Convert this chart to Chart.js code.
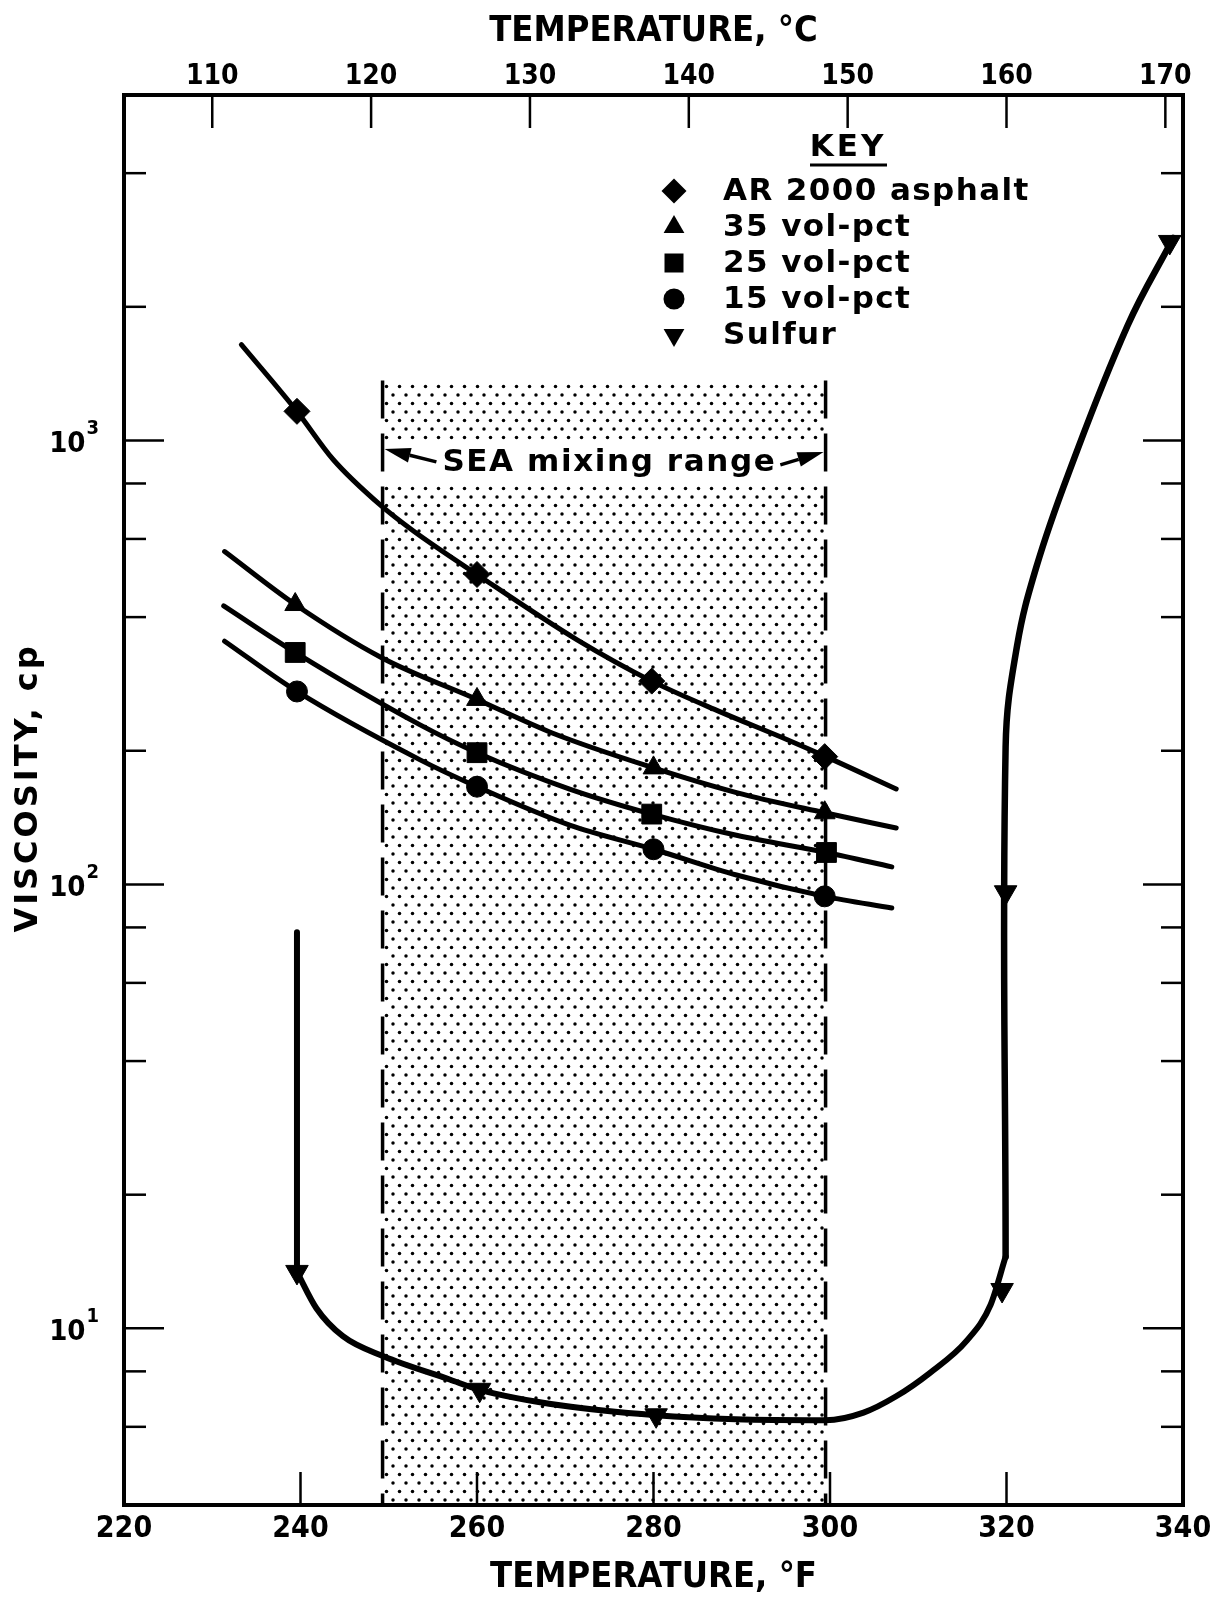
<!DOCTYPE html>
<html>
<head>
<meta charset="utf-8">
<script src="https://cdn.jsdelivr.net/npm/chart.js@4.4.1/dist/chart.umd.min.js"></script>
<style>
  html, body { margin: 0; padding: 0; background: #fff; }
  #wrap { width: 1222px; height: 1602px; }
</style>
</head>
<body>
<div id="wrap"><canvas id="grafico" width="1222" height="1602"></canvas></div>
<script>
// valores: temperatura em °F, viscosidade em cp
const nomes = ['AR 2000 asphalt', '35 vol-pct', '25 vol-pct', '15 vol-pct', 'Sulfur'];

// pontos medidos (marcadores)
const asfaltoTemp = [239.6, 260.0, 279.8, 299.4];
const asfaltoVisc = [1163, 499, 287, 194];
const vol35Temp = [239.4, 260.0, 280.0, 299.4];
const vol35Visc = [427, 261, 183, 145];
const vol25Temp = [239.4, 260.0, 279.8, 299.6];
const vol25Visc = [333, 198, 144, 118];
const vol15Temp = [239.6, 260.0, 280.0, 299.4];
const vol15Visc = [272, 166, 120, 94];
const enxofreTemp = [239.6, 260.3, 280.3, 319.5, 319.9, 338.5];
const enxofreVisc = [13.4, 7.27, 6.37, 12.2, 96, 2800];

// curvas ajustadas (tracadas a mao no original)
const curvaAsfaltoT = [233.3, 239.6, 243.7, 249.2, 252.8, 260.0, 271.3, 279.8, 287.5, 295.1, 299.4, 307.5];
const curvaAsfaltoV = [1644, 1163, 906, 711, 625, 499, 356, 287, 245, 212, 194.5, 164];
const curva35T = [231.4, 239.4, 249.2, 260.0, 268.6, 280.0, 289.4, 299.4, 307.5];
const curva35V = [562, 427, 324, 261, 219, 183, 161, 145, 134];
const curva25T = [231.3, 239.4, 253.5, 260.0, 270.5, 279.8, 289.4, 299.6, 307.0];
const curva25V = [424, 333, 229, 198, 164, 144, 129, 118, 109.5];
const curva15T = [231.4, 239.6, 253.5, 260.0, 270.5, 280.0, 289.4, 299.4, 307.0];
const curva15V = [353, 272, 191, 166, 136, 120, 105, 94, 88.5];

// enxofre: queda na fusao, vale, e subida na polimerizacao
const enxofreDescidaT = [239.6, 239.6];
const enxofreDescidaV = [78, 13.4];
const enxofreValeT = [239.6, 241.8, 244.8, 249.4, 256.9, 260.3, 269.6, 280.3, 289.3, 299.5, 303.8, 307.5, 311.3, 315.5, 318.2, 319.9];
const enxofreValeV = [13.4, 11.1, 9.6, 8.65, 7.67, 7.27, 6.7, 6.37, 6.24, 6.21, 6.46, 7.03, 7.93, 9.38, 11.3, 14.5];
const enxofreSubidaT = [319.9, 319.9, 321.2, 323.4, 327.0, 333.7, 338.9];
const enxofreSubidaV = [14.5, 204, 345, 520, 840, 1811, 2858];

// faixa de mistura SEA
const faixaMistura = [249.3, 299.5];
const topoFaixa = 1365;
const rotuloFaixa = { temp: 275, visc: 890, texto: 'SEA mixing range' };

// eixos
const tempC = [110, 120, 130, 140, 150, 160, 170];
const marcasF = [240, 260, 280, 300, 320];
const marcasVisc = [4000, 2000, 1000, 800, 600, 400, 200, 100, 80, 60, 40, 20, 10, 8, 6];
const decadas = [10, 100, 1000];
const expoentes = ['1', '2', '3'];

const FONTE = '"DejaVu Sans", sans-serif';
const FONTE_COND = '"DejaVu Sans Condensed", "Liberation Sans Narrow", "DejaVu Sans", sans-serif';

const ctx = document.getElementById('grafico').getContext('2d');
const pares = (xs, ys) => xs.map((x, i) => ({ x: x, y: ys[i] }));

// padrao pontilhado da faixa
function pontilhado() {
  const c = document.createElement('canvas');
  c.width = 13; c.height = 17;
  const g = c.getContext('2d');
  g.fillStyle = '#000';
  [[3, 4], [9.5, 12.5]].forEach(([px, py]) => {
    g.beginPath(); g.arc(px, py, 1.75, 0, Math.PI * 2); g.fill();
  });
  return ctx.createPattern(c, 'repeat');
}

function marcadores(xs, ys, estilo, raio, rot) {
  return {
    data: pares(xs, ys), showLine: false, pointStyle: estilo, pointRadius: raio,
    pointRotation: rot || 0, pointBackgroundColor: '#000', pointBorderColor: '#000',
    pointBorderWidth: 1, clip: 20
  };
}
// modo: 'monotone', 'bezier' ou reta
function curva(xs, ys, larg, modo) {
  return {
    data: pares(xs, ys), showLine: true, pointRadius: 0, borderColor: '#000',
    borderWidth: larg, borderCapStyle: 'round', borderJoinStyle: 'round',
    cubicInterpolationMode: modo === 'monotone' ? 'monotone' : 'default',
    tension: modo === 'bezier' ? 0.4 : 0, fill: false
  };
}
function tracejada(t) {
  return {
    data: [{ x: t, y: topoFaixa }, { x: t, y: 4 }], showLine: true, pointRadius: 0,
    borderColor: '#000', borderWidth: 3.5, borderDash: [38, 15], fill: false
  };
}

const datasets = [
  marcadores(asfaltoTemp, asfaltoVisc, 'rectRot', 13),
  marcadores(vol35Temp, vol35Visc, 'triangle', 12),
  marcadores(vol25Temp, vol25Visc, 'rect', 14),
  marcadores(vol15Temp, vol15Visc, 'circle', 10.5),
  marcadores(enxofreTemp, enxofreVisc, 'triangle', 13, 180),
  curva(curvaAsfaltoT, curvaAsfaltoV, 5, 'monotone'),
  curva(curva35T, curva35V, 5, 'monotone'),
  curva(curva25T, curva25V, 5, 'monotone'),
  curva(curva15T, curva15V, 5, 'monotone'),
  curva(enxofreDescidaT, enxofreDescidaV, 6, 'reta'),
  curva(enxofreValeT, enxofreValeV, 6, 'monotone'),
  curva(enxofreSubidaT, enxofreSubidaV, 6.5, 'bezier'),
  tracejada(faixaMistura[0]),
  tracejada(faixaMistura[1]),
  {
    data: [{ x: faixaMistura[0], y: topoFaixa }, { x: faixaMistura[1], y: topoFaixa }],
    showLine: true, pointRadius: 0, borderWidth: 0, borderColor: 'transparent',
    backgroundColor: pontilhado(), fill: 'start'
  }
];
const indiceFaixa = datasets.length - 1;

function linha(c, x1, y1, x2, y2) {
  c.beginPath(); c.moveTo(x1, y1); c.lineTo(x2, y2); c.stroke();
}
function seta(c, x1, y1, x2, y2) {
  const ang = Math.atan2(y2 - y1, x2 - x1);
  const L = 26, W = 7.5;
  const bx = x2 - Math.cos(ang) * L, by = y2 - Math.sin(ang) * L;
  linha(c, x1, y1, bx, by);
  c.beginPath();
  c.moveTo(x2, y2);
  c.lineTo(bx + Math.sin(ang) * W, by - Math.cos(ang) * W);
  c.lineTo(bx - Math.sin(ang) * W, by + Math.cos(ang) * W);
  c.closePath(); c.fill();
}
function desenhaMarca(c, estilo, x, y, r) {
  c.beginPath();
  if (estilo === 'losango') {
    c.moveTo(x, y - r); c.lineTo(x + r, y); c.lineTo(x, y + r); c.lineTo(x - r, y);
  } else if (estilo === 'triangulo') {
    c.moveTo(x, y - r); c.lineTo(x + r * 0.866, y + r / 2); c.lineTo(x - r * 0.866, y + r / 2);
  } else if (estilo === 'quadrado') {
    c.rect(x - r, y - r, 2 * r, 2 * r);
  } else if (estilo === 'circulo') {
    c.arc(x, y, r, 0, Math.PI * 2);
  } else {
    c.moveTo(x, y + r); c.lineTo(x + r * 0.866, y - r / 2); c.lineTo(x - r * 0.866, y - r / 2);
  }
  c.closePath(); c.fill();
}

const estilosLegenda = ['losango', 'triangulo', 'quadrado', 'circulo', 'trianguloInv'];
const raiosLegenda = [12.5, 12, 9.5, 10.5, 12];

const desenhoPlugin = {
  id: 'desenho',
  afterDatasetDraw(chart, args) {
    if (args.index !== indiceFaixa) return;
    // faixa branca atras do rotulo
    const c = chart.ctx, s = chart.scales;
    const y = s.y.getPixelForValue(rotuloFaixa.visc);
    const x1 = s.x.getPixelForValue(faixaMistura[0]), x2 = s.x.getPixelForValue(faixaMistura[1]);
    c.save();
    c.fillStyle = '#fff';
    c.fillRect(x1, y - 20, x2 - x1, 40);
    c.restore();
  },
  afterDatasetsDraw(chart) {
    const c = chart.ctx, a = chart.chartArea, s = chart.scales;
    c.save();
    c.strokeStyle = '#000'; c.fillStyle = '#000';

    // marcas de escala para dentro
    c.lineWidth = 2.5;
    marcasVisc.forEach(v => {
      const y = s.y.getPixelForValue(v);
      const len = decadas.includes(v) ? 40 : 22;
      linha(c, a.left, y, a.left + len, y);
      linha(c, a.right, y, a.right - len, y);
    });
    marcasF.forEach(v => {
      const x = s.x.getPixelForValue(v);
      linha(c, x, a.bottom, x, a.bottom - 33);
    });
    tempC.forEach(v => {
      const x = s.x2.getPixelForValue(v);
      linha(c, x, a.top, x, a.top + 33);
    });
    c.lineWidth = 4;
    c.strokeRect(a.left, a.top, a.right - a.left, a.bottom - a.top);

    // rotulos do eixo de viscosidade (10 com expoente)
    c.textAlign = 'right';
    decadas.forEach((v, i) => {
      const y = s.y.getPixelForValue(v);
      c.font = 'bold 20px ' + FONTE_COND;
      c.textBaseline = 'middle';
      c.fillText(expoentes[i], 99, y - 12);
      const wExp = c.measureText(expoentes[i]).width;
      c.font = 'bold 29px ' + FONTE_COND;
      c.fillText('10', 99 - wExp - 1, y + 4);
    });

    // titulo do eixo y
    c.save();
    c.translate(29, 788);
    c.rotate(-Math.PI / 2);
    c.font = 'bold 32px ' + FONTE;
    c.letterSpacing = '3px';
    c.textAlign = 'center'; c.textBaseline = 'middle';
    c.fillText('VISCOSITY, cp', 0, 0);
    c.restore();

    // rotulo da faixa de mistura
    const yr = s.y.getPixelForValue(rotuloFaixa.visc);
    const xr = s.x.getPixelForValue(rotuloFaixa.temp);
    const xe = s.x.getPixelForValue(faixaMistura[0]), xd = s.x.getPixelForValue(faixaMistura[1]);
    c.font = 'bold 31px ' + FONTE;
    c.letterSpacing = '1.6px';
    c.textAlign = 'center'; c.textBaseline = 'middle';
    c.fillText(rotuloFaixa.texto, xr, yr);
    const meia = c.measureText(rotuloFaixa.texto).width / 2;
    c.lineWidth = 3.5;
    seta(c, xr - meia - 6, yr - 1, xe + 2, yr - 14);
    seta(c, xr + meia + 4, yr + 2, xd - 2, yr - 11);

    // legenda
    c.font = 'bold 31px ' + FONTE;
    c.letterSpacing = '3px';
    c.fillText('KEY', 848, 148);
    c.lineWidth = 3;
    linha(c, 810, 165, 887, 165);
    c.textAlign = 'left';
    c.letterSpacing = '1.4px';
    nomes.forEach((n, i) => {
      const y = 191 + i * 36;
      desenhaMarca(c, estilosLegenda[i], 674, y, raiosLegenda[i]);
      c.fillText(n, 723, y + 1);
    });
    c.restore();
  }
};

new Chart(ctx, {
  type: 'scatter',
  data: { datasets: datasets },
  options: {
    responsive: false,
    animation: false,
    devicePixelRatio: 1,
    layout: { autoPadding: false, padding: { left: 0, top: 0, bottom: 0, right: 39 } },
    plugins: { legend: { display: false }, tooltip: { enabled: false } },
    scales: {
      x: {
        type: 'linear', position: 'bottom', min: 220, max: 340,
        grid: { display: false, drawTicks: false }, border: { display: false },
        ticks: { stepSize: 20, maxRotation: 0, autoSkip: false, padding: 6, color: '#000',
          font: { family: FONTE_COND, size: 30, weight: 'bold' } },
        title: { display: true, text: 'TEMPERATURE, °F', color: '#000',
          font: { family: FONTE_COND, size: 36, weight: 'bold' }, padding: { top: 5, bottom: 3 } },
        afterFit: s => { s.height = 97; }
      },
      x2: {
        type: 'linear', position: 'top', min: (220 - 32) / 1.8, max: (340 - 32) / 1.8,
        grid: { display: false, drawTicks: false }, border: { display: false },
        afterBuildTicks: s => { s.ticks = tempC.map(v => ({ value: v })); },
        ticks: { maxRotation: 0, autoSkip: false, padding: 1, color: '#000',
          font: { family: FONTE_COND, size: 28, weight: 'bold' } },
        title: { display: true, text: 'TEMPERATURE, °C', color: '#000',
          font: { family: FONTE_COND, size: 36, weight: 'bold' }, padding: { top: 10, bottom: 4 } },
        afterFit: s => { s.height = 95; }
      },
      y: {
        type: 'logarithmic', position: 'left', min: 4, max: 6000,
        grid: { display: false, drawTicks: false }, border: { display: false },
        afterBuildTicks: s => { s.ticks = decadas.map(v => ({ value: v })); },
        ticks: { display: false },
        afterFit: s => { s.width = 124; }
      }
    }
  },
  plugins: [desenhoPlugin]
});
</script>
</body>
</html>
